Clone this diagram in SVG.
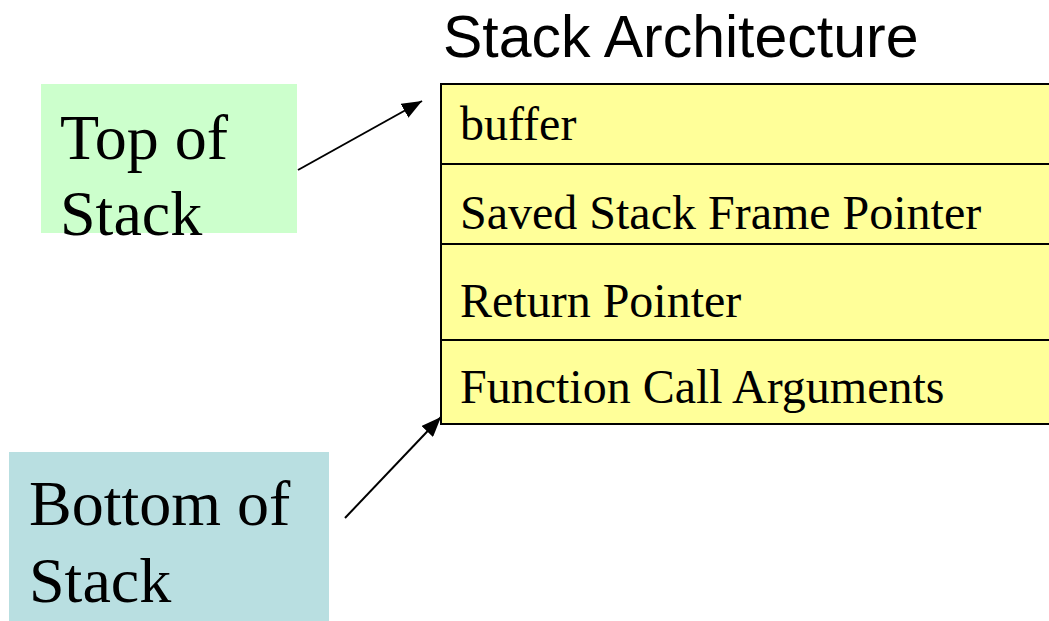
<svg xmlns="http://www.w3.org/2000/svg" width="1049" height="621" viewBox="0 0 1049 621">
  <style>
    .serif { font-family: "Liberation Serif", "Times New Roman", serif; fill: #000; }
    .label { font-size: 64px; }
    .cell-text { font-size: 48px; }
    .title { font-family: "Liberation Sans", Arial, sans-serif; font-size: 59px; fill: #000; }
    .cell { fill: #FFFF99; stroke: #000; stroke-width: 2; }
    .conn { stroke: #000; stroke-width: 2; fill: none; marker-end: url(#arrow); }
  </style>
  <defs>
    <marker id="arrow" viewBox="0 0 20 16" refX="20" refY="8" markerWidth="20" markerHeight="16" markerUnits="userSpaceOnUse" orient="auto">
      <path d="M0,0 L20,8 L0,16 Z" fill="#000"/>
    </marker>
  </defs>

  <rect width="1049" height="621" fill="#fff"/>

  <g id="title">
    <text class="title" x="443" y="57">Stack Architecture</text>
  </g>

  <g id="top-of-stack">
    <rect x="41" y="84" width="256" height="149" fill="#CCFFCC"/>
    <text class="serif label" x="60" y="159">Top of</text>
    <text class="serif label" x="60" y="235">Stack</text>
  </g>

  <g id="bottom-of-stack">
    <rect x="9" y="452" width="320" height="169" fill="#B9DFE1"/>
    <text class="serif label" x="29" y="525">Bottom of</text>
    <text class="serif label" x="29" y="602">Stack</text>
  </g>

  <g id="stack">
    <g id="row-buffer">
      <rect class="cell" x="441" y="84" width="620" height="80"/>
      <text class="serif cell-text" x="460" y="140">buffer</text>
    </g>
    <g id="row-saved-frame-pointer">
      <rect class="cell" x="441" y="164" width="620" height="80"/>
      <text class="serif cell-text" x="460" y="229">Saved Stack Frame Pointer</text>
    </g>
    <g id="row-return-pointer">
      <rect class="cell" x="441" y="244" width="620" height="96"/>
      <text class="serif cell-text" x="460" y="317">Return Pointer</text>
    </g>
    <g id="row-arguments">
      <rect class="cell" x="441" y="340" width="620" height="84"/>
      <text class="serif cell-text" x="460" y="403">Function Call Arguments</text>
    </g>
  </g>

  <g id="connectors">
    <line class="conn" x1="298" y1="170" x2="422" y2="101"/>
    <line class="conn" x1="345" y1="518" x2="441" y2="417"/>
  </g>
</svg>
